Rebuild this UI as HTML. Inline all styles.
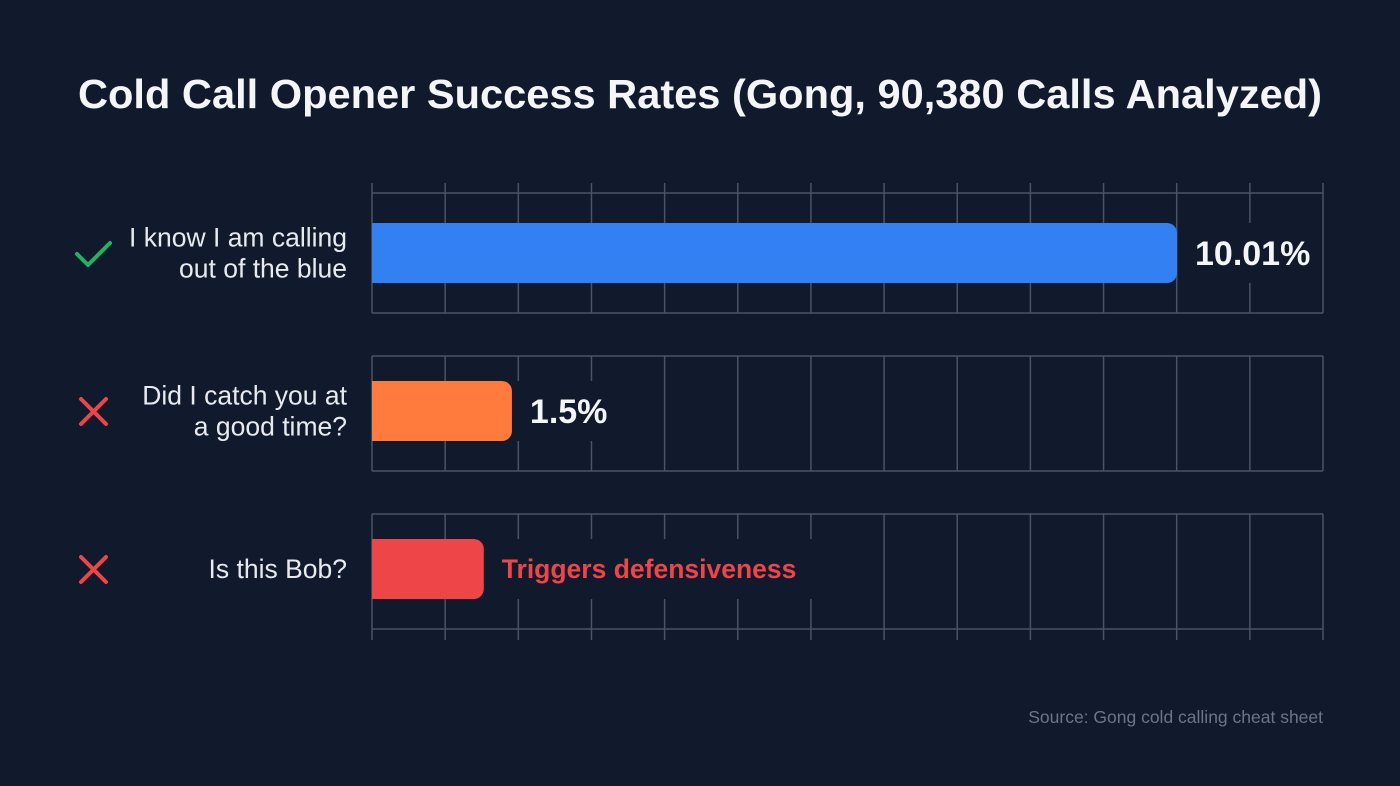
<!DOCTYPE html>
<html><head><meta charset="utf-8"><style>
html,body{margin:0;padding:0;background:#111a2d;}
body{width:1400px;height:781px;overflow:hidden;font-family:"Liberation Sans",sans-serif;}
</style></head><body>
<svg id="chart" width="1400" height="781" xmlns="http://www.w3.org/2000/svg">
<rect width="1400" height="781" fill="#111a2d"/>
<text x="700" y="108" text-anchor="middle" font-size="41" font-weight="bold" fill="#f4f5f7" textLength="1244" lengthAdjust="spacingAndGlyphs">Cold Call Opener Success Rates (Gong, 90,380 Calls Analyzed)</text>
<text x="1323" y="723" text-anchor="end" font-size="17.5" fill="#6b7488">Source: Gong cold calling cheat sheet</text>
<g id="plot"></g>
</svg>
<script>
const categories = [["I know I am calling","out of the blue"],["Did I catch you at","a good time?"],["Is this Bob?"]];
const values = [10.01, 1.74, 1.39];
const valueLabels = ["10.01%","1.5%","Triggers defensiveness"];
const good = [true,false,false];
const colors = ["#3380f2","#ff7a3d","#ee4549"];
const labelColors = ["#f4f5f7","#f4f5f7","#ee4549"];

const NS="http://www.w3.org/2000/svg";
const plot=document.getElementById('plot');
const x0=372, x1=1323, nCols=13;
const xScale=v=>x0+v*(1177-x0)/10.01;
const rowTop=[193,356,514], rowH=[120,115,115];
function mk(tag,attrs,parent){const e=document.createElementNS(NS,tag);for(const k in attrs)e.setAttribute(k,attrs[k]);(parent||plot).appendChild(e);return e;}
const grid="#4a5366";
categories.forEach((cat,i)=>{
  const g=mk('g',{});
  
  
  const top=rowTop[i], bot=top+rowH[i];
  const vt=i===0?top-10:top, vb=i===2?bot+11:bot;
  for(let c=0;c<=nCols;c++){
    const x=x0+c*(x1-x0)/nCols;
    const l=mk('line',{x1:x,x2:x,y1:vt,y2:vb,stroke:grid,'stroke-width':1.5},g);
    
    
  }
  [top,bot].forEach(y=>{
    const l=mk('line',{x1:x0,x2:x1,y1:y,y2:y,stroke:grid,'stroke-width':1.5},g);
    
    
  });
  const cy=top+(i===0?60:55);
  const bw=xScale(values[i])-x0;
  const lx=xScale(values[i])+18;
  const txt=mk('text',{x:lx,y:cy+(i===2?9:12),'font-size':i===2?26.5:34,'font-weight':'bold',fill:labelColors[i]},g);
  txt.textContent=valueLabels[i];
  
  
  const bb=txt.getBBox();
  const bg=mk('rect',{x:xScale(values[i])+2,y:cy-30,width:Math.min(bb.width+34,x1-xScale(values[i])-3),height:60,fill:'#111a2d'},g);
  
  
  g.insertBefore(bg,txt);
  const bar=mk('path',{d:`M${x0},${cy-30}H${x0+bw-10}a10,10 0 0 1 10,10V${cy+20}a10,10 0 0 1 -10,10H${x0}Z`,fill:colors[i]},g);
  
  
  cat.forEach((s,j)=>{
    const t=mk('text',{x:347,y:cy+9+(j-(cat.length-1)/2)*31,'text-anchor':'end','font-size':26.5,fill:'#e8eaee'},g);
    t.textContent=s;
    
    
  });
  const ic=mk('path',{d:good[i]?`M77,${cy+1}L88,${cy+12}L110,${cy-10}`:`M81,${cy-12}L106,${cy+13}M106,${cy-12}L81,${cy+13}`,stroke:good[i]?'#22b35e':'#ee4549','stroke-width':4,fill:'none','stroke-linecap':'round','stroke-linejoin':'round'},g);
  
  
});
</script>
</body></html>
